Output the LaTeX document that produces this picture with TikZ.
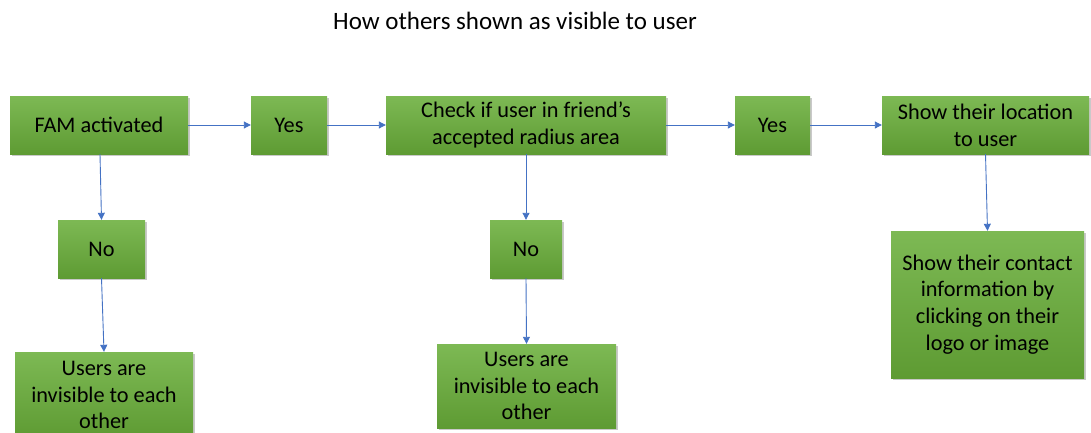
\documentclass[tikz,border=0pt]{standalone}
\usepackage{fontspec}
\setmainfont{Carlito}
\usetikzlibrary{arrows.meta,shadows}
\definecolor{gtop}{HTML}{7DB954}
\definecolor{gbot}{HTML}{5E9B33}
\definecolor{lineblue}{HTML}{4472C4}
\tikzset{
  flowbox/.style={draw=none, top color=gtop, bottom color=gbot, align=center, inner sep=2pt,
    font=\fontsize{22.3}{26.7}\selectfont,
    drop shadow={shadow xshift=2pt, shadow yshift=-2pt, opacity=0.35, fill=black!60}},
  conn/.style={draw=lineblue, line width=0.9pt, -{Triangle[length=7pt,width=7pt]}},
}
\begin{document}
\begin{tikzpicture}[x=1pt,y=-1pt]
\useasboundingbox (0,0) rectangle (1091,432);
\fill[white] (0,0) rectangle (1091,432);
\node[font=\fontsize{25}{30}\selectfont] (title) at (515,21) {How others shown as visible to user};
\node[flowbox, minimum width=178pt, minimum height=58pt] (fam) at (99,125) {FAM activated};
\node[flowbox, minimum width=76pt, minimum height=58pt] (yes1) at (289,125) {Yes};
\node[flowbox, minimum width=280pt, minimum height=58pt] (check) at (526,125) {Check if user in friend’s\\accepted radius area};
\node[flowbox, minimum width=75pt, minimum height=58pt] (yes2) at (772.5,125) {Yes};
\node[flowbox, minimum width=207pt, minimum height=58pt] (loc) at (985.5,125) {Show their location\\to user};
\node[flowbox, minimum width=87pt, minimum height=58pt] (no1) at (101.5,249) {No};
\node[flowbox, minimum width=72pt, minimum height=58pt] (no2) at (526,249) {No};
\node[flowbox, minimum width=178pt, minimum height=86pt] (inv1) at (104,395) {Users are\\invisible to each\\other};
\node[flowbox, minimum width=179pt, minimum height=84pt] (inv2) at (526.5,386) {Users are\\invisible to each\\other};
\node[flowbox, minimum width=193pt, minimum height=147pt] (contact) at (987.5,304.5) {Show their contact\\information by\\clicking on their\\logo or image};
\draw[conn] (fam.east) -- (yes1.west);
\draw[conn] (yes1.east) -- (check.west);
\draw[conn] (check.east) -- (yes2.west);
\draw[conn] (yes2.east) -- (loc.west);
\draw[conn] (fam.south -| 100,0) -- (no1.north);
\draw[conn] (no1.south) -- (inv1.north);
\draw[conn] (check.south) -- (no2.north);
\draw[conn] (no2.south) -- (inv2.north);
\draw[conn] (loc.south) -- (contact.north);
\end{tikzpicture}
\end{document}
